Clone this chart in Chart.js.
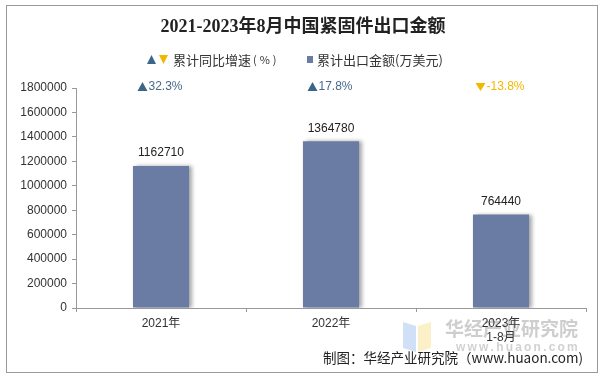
<!DOCTYPE html>
<html><head><meta charset="utf-8">
<script src="https://cdn.jsdelivr.net/npm/chart.js@4"></script>
<style>html,body{margin:0;padding:0;background:#fff}#wrap{width:605px;height:383px}</style>
</head><body><div id="wrap"><canvas id="c" width="605" height="383"></canvas></div>
<script>
const categories = ["2021年", "2022年", ["2023年", "1-8月"]];
const exportValues = [1162710, 1364780, 764440];
const growthRates = [32.3, 17.8, -13.8];
const yTicks = [0, 200000, 400000, 600000, 800000, 1000000, 1200000, 1400000, 1600000, 1800000];

const TITLE = "2021-2023年8月中国紧固件出口金额";
const LEGEND_GROWTH = "累计同比增速";
const LEGEND_GROWTH_UNIT = "(%)";
const LEGEND_VALUE = "累计出口金额(万美元)";
const WATERMARK = "华经产业研究院";
const WATERMARK_URL = "www.huaon.com";
const FOOTER = "制图：华经产业研究院（www.huaon.com)";
const BAR_COLOR = "#6a7ca4";
const UP_COLOR = "#3a6789";
const DOWN_COLOR = "#f2b800";
const CJK = '"Noto Sans CJK SC", sans-serif';
const LAT = '"Liberation Sans", Arial, "Noto Sans CJK SC", sans-serif';

function spaced(ctx, text, x, y, gap) {
  for (const ch of text) { ctx.fillText(ch, x, y); x += ctx.measureText(ch).width + gap; }
  return x;
}

const decor = {
  id: 'decor',
  beforeDraw(chart) {
    const ctx = chart.ctx;
    ctx.save();
    ctx.fillStyle = '#fff';
    ctx.fillRect(0, 0, chart.width, chart.height);
    // watermark
    ctx.globalAlpha = 0.55;
    ctx.fillStyle = '#a9c8f0';
    ctx.beginPath(); ctx.moveTo(403, 322); ctx.lineTo(416, 326); ctx.lineTo(416, 352); ctx.lineTo(403, 348); ctx.closePath(); ctx.fill();
    ctx.fillStyle = '#f7e49a';
    ctx.beginPath(); ctx.moveTo(418, 326); ctx.lineTo(431, 322); ctx.lineTo(431, 348); ctx.lineTo(418, 352); ctx.closePath(); ctx.fill();
    ctx.globalAlpha = 1;
    ctx.fillStyle = 'rgba(185,185,185,0.7)';
    ctx.font = 'bold 19px ' + CJK;
    ctx.textAlign = 'left'; ctx.textBaseline = 'middle';
    ctx.fillText(WATERMARK, 445, 329);
    ctx.font = 'bold 12px ' + LAT;
    ctx.fillStyle = 'rgba(190,190,190,0.7)';
    spaced(ctx, WATERMARK_URL, 456, 348, 2.2);
    ctx.restore();
  },
  beforeDatasetDraw(chart) {
    const ctx = chart.ctx;
    ctx.save();
    ctx.shadowColor = 'rgba(0,0,0,0.35)';
    ctx.shadowOffsetX = 3;
    ctx.shadowOffsetY = 0;
    ctx.shadowBlur = 4;
  },
  afterDatasetDraw(chart) {
    chart.ctx.restore();
  },
  afterDraw(chart) {
    const ctx = chart.ctx;
    ctx.save();
    // border
    ctx.strokeStyle = '#9a9a9a'; ctx.lineWidth = 1;
    ctx.strokeRect(6.5, 5.5, 591, 367);
    // title
    ctx.fillStyle = '#222';
    ctx.font = 'bold 18px "Liberation Serif", ' + CJK;
    ctx.textAlign = 'center'; ctx.textBaseline = 'middle';
    ctx.fillText(TITLE, 303, 27);
    // legend
    ctx.font = '13px ' + CJK;
    ctx.textAlign = 'left';
    ctx.fillStyle = UP_COLOR;
    ctx.beginPath(); ctx.moveTo(147, 64); ctx.lineTo(151.5, 55); ctx.lineTo(156, 64); ctx.closePath(); ctx.fill();
    ctx.fillStyle = DOWN_COLOR;
    ctx.beginPath(); ctx.moveTo(159, 55); ctx.lineTo(168, 55); ctx.lineTo(163.5, 64); ctx.closePath(); ctx.fill();
    ctx.fillStyle = '#333';
    ctx.fillText(LEGEND_GROWTH, 173, 60);
    ctx.font = '11px ' + CJK;
    spaced(ctx, LEGEND_GROWTH_UNIT, 253, 60, 3);
    ctx.font = '13px ' + CJK;
    ctx.fillStyle = BAR_COLOR;
    ctx.fillRect(307, 56, 6, 7);
    ctx.fillStyle = '#333';
    ctx.fillText(LEGEND_VALUE, 317, 60);
    // bar value labels & growth labels
    const meta = chart.getDatasetMeta(0);
    ctx.font = '12px ' + LAT;
    meta.data.forEach((bar, i) => {
      ctx.fillStyle = '#222';
      ctx.textAlign = 'center';
      ctx.fillText(String(exportValues[i]), bar.x, bar.y - 13);
      const g = growthRates[i];
      const up = g >= 0;
      const txt = (up ? '' : '-') + Math.abs(g).toFixed(1) + '%';
      const tw = ctx.measureText(txt).width;
      const total = tw + 11;
      const cx = bar.x - 1;
      const left = cx - total / 2;
      const y = 87;
      ctx.fillStyle = up ? UP_COLOR : DOWN_COLOR;
      ctx.beginPath();
      if (up) { ctx.moveTo(left, y + 4); ctx.lineTo(left + 5, y - 5); ctx.lineTo(left + 10, y + 4); }
      else { ctx.moveTo(left, y - 4); ctx.lineTo(left + 10, y - 4); ctx.lineTo(left + 5, y + 4); }
      ctx.closePath(); ctx.fill();
      ctx.fillStyle = up ? '#47698a' : DOWN_COLOR;
      ctx.textAlign = 'left';
      ctx.fillText(txt, left + 11, y);
    });
    // footer
    ctx.fillStyle = '#222';
    ctx.font = '13.5px ' + CJK;
    ctx.textAlign = 'right';
    ctx.fillText(FOOTER, 583, 358);
    ctx.restore();
  }
};

new Chart(document.getElementById('c'), {
  type: 'bar',
  data: {
    labels: categories,
    datasets: [{
      data: exportValues,
      backgroundColor: BAR_COLOR,
      barPercentage: 0.33,
      categoryPercentage: 1
    }]
  },
  options: {
    responsive: false,
    animation: false,
    devicePixelRatio: 1,
    layout: { padding: { left: 0, top: 88, right: 19, bottom: 0 } },
    plugins: { legend: { display: false }, tooltip: { enabled: false }, title: { display: false } },
    scales: {
      x: {
        afterFit(s) { s.height = 75; },
        border: { display: true, color: '#999' },
        grid: { display: true, drawOnChartArea: false, tickLength: 4, color: '#999', offset: true },
        ticks: { color: '#333', font: { size: 12, family: '"Liberation Sans", "Noto Sans CJK SC", sans-serif' }, padding: 4, maxRotation: 0 }
      },
      y: {
        min: 0, max: 1800000,
        afterFit(s) { s.width = 76; },
        afterBuildTicks(s) { s.ticks = yTicks.map(v => ({ value: v })); },
        border: { display: true, color: '#999' },
        grid: { display: true, drawOnChartArea: false, tickLength: 4, color: '#999' },
        ticks: { color: '#333', font: { size: 12, family: LAT }, padding: 5, callback: v => String(v) }
      }
    }
  },
  plugins: [decor]
});
</script>
</body></html>
